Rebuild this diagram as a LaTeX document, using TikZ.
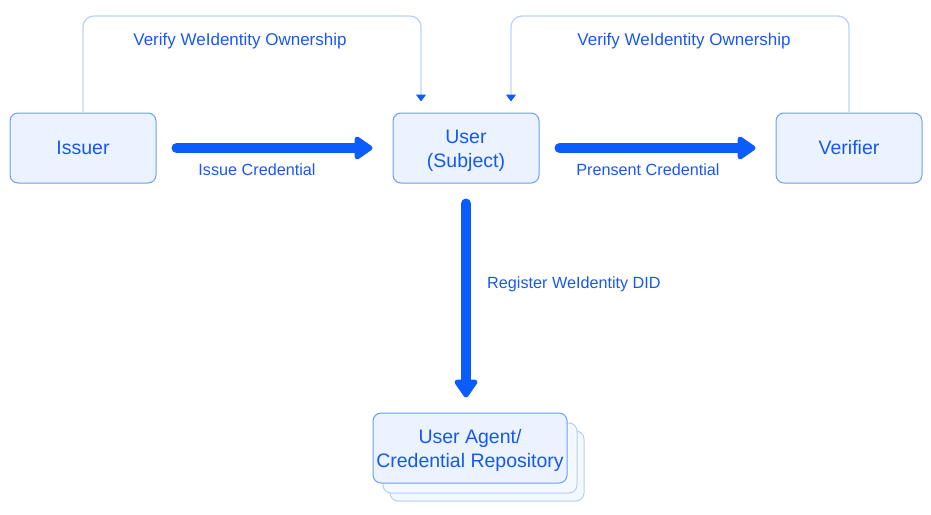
\documentclass[tikz,border=0pt]{standalone}
\usepackage{fontspec}
\setmainfont{Liberation Sans}
\usetikzlibrary{arrows.meta,positioning}
\definecolor{boxfill}{HTML}{EAF3FF}
\definecolor{boxdraw}{HTML}{6C9EF2}
\definecolor{txtblue}{HTML}{1858F0}
\definecolor{arrblue}{HTML}{0A5CFF}
\definecolor{loopline}{HTML}{BCD4FC}
\definecolor{backfill}{HTML}{F4F8FF}
\definecolor{backdraw}{HTML}{B5CFFA}
\newcommand\topstrut{\rule{0pt}{20pt}}
\tikzset{
  entity/.style={draw=boxdraw, fill=boxfill, line width=1pt, rounded corners=8pt,
    minimum width=146pt, minimum height=70pt, inner sep=0pt, align=center,
    text=txtblue, font=\fontsize{19.5}{24}\selectfont},
  backbox/.style={draw=backdraw, fill=backfill, line width=1pt, rounded corners=8pt,
    minimum width=194pt, minimum height=70pt, inner sep=0pt},
  bigarrow/.style={draw=arrblue, line width=10pt, line cap=round,
    -{Triangle[length=20pt,width=26pt,round]}},
  loop/.style={draw=loopline, line width=1.3pt, rounded corners=11pt,
    -{Triangle[length=7pt,width=10pt,color=arrblue]}},
  lbl/.style={text=txtblue, font=\fontsize{17}{20}\selectfont, inner sep=0pt},
  lbls/.style={text=txtblue, font=\fontsize{16.2}{20}\selectfont, inner sep=0pt}
}
\begin{document}
\begin{tikzpicture}[x=1pt,y=-1pt]
\useasboundingbox (0,0) rectangle (931,514);
\node[entity] (issuer) at (83,148) {Issuer};
\node[entity] (user) at (466,148) {\topstrut User\\(Subject)};
\node[entity] (verifier) at (849,148) {Verifier};
\node[backbox] (back2) at (487,466) {};
\node[backbox] (back1) at (480,458) {};
\node[entity, minimum width=194pt] (agent) at (470,448) {\topstrut User Agent/\\Credential Repository};

\draw[bigarrow, shorten <=20pt, shorten >=20pt] (issuer.east) -- (user.west);
\draw[bigarrow, shorten <=20pt, shorten >=20pt] (user.east) -- (verifier.west);
\draw[bigarrow, shorten <=20pt, shorten >=15pt] (user.south) -- (user.south |- agent.north);

\coordinate (top) at (0,16);
\coordinate (uin) at ([xshift=-45pt]user.north);
\coordinate (uin2) at ([xshift=45pt]user.north);
\draw[loop, shorten >=11pt] (issuer.north) -- (issuer.north |- top) -- (uin |- top) -- (uin);
\draw[loop, shorten >=11pt] (verifier.north) -- (verifier.north |- top) -- (uin2 |- top) -- (uin2);

\node[lbl] (l1) at (240,41) {Verify WeIdentity Ownership};
\node[lbl] (l2) at (684,41) {Verify WeIdentity Ownership};
\node[lbls] (l3) at (257,170) {Issue Credential};
\node[lbls] (l4) at (648,170) {Prensent Credential};
\node[lbls, anchor=west] (l5) at (487,284) {Register WeIdentity DID};
\end{tikzpicture}
\end{document}
